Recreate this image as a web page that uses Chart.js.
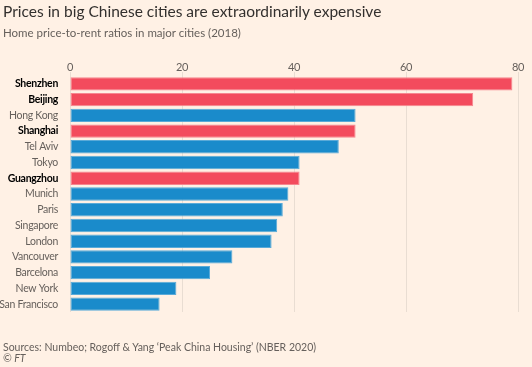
<!DOCTYPE html>
<html><head><meta charset="utf-8">
<script src="https://cdn.jsdelivr.net/npm/chart.js@4"></script>
<style>
html,body{margin:0;padding:0;background:#FFF1E5;}
body{width:532px;height:367px;position:relative;overflow:hidden;font-family:Lato,"Noto Sans",sans-serif;}
#wrap{position:absolute;left:0;top:0;width:532px;height:367px;}
.t{position:absolute;left:3px;white-space:nowrap;}
#title{top:2px;font-size:15.5px;line-height:18px;color:#33302E;}
#sub{top:26px;font-size:11.5px;line-height:14px;color:#66605C;}
#src{top:341px;font-size:10.5px;line-height:13px;color:#66605C;}
#ft{top:352px;font-size:10.5px;line-height:13px;color:#66605C;font-style:italic;}
</style></head>
<body>
<div id="wrap"><canvas id="c" width="532" height="367"></canvas></div>
<div class="t" id="title">Prices in big Chinese cities are extraordinarily expensive</div>
<div class="t" id="sub">Home price-to-rent ratios in major cities (2018)</div>
<div class="t" id="src">Sources: Numbeo; Rogoff &amp; Yang ‘Peak China Housing’ (NBER 2020)</div>
<div class="t" id="ft">© FT</div>
<script>
const cities = ["Shenzhen","Beijing","Hong Kong","Shanghai","Tel Aviv","Tokyo","Guangzhou","Munich","Paris","Singapore","London","Vancouver","Barcelona","New York","San Francisco"];
const ratios = [79,72,51,51,48,41,41,39,38,37,36,29,25,19,16];
const mainland = [true,true,false,true,false,false,true,false,false,false,false,false,false,false,false];
const xTicks = [0,20,40,60,80];

const RED="#F34B5D", BLUE="#1A8BCB";
const spacing = {id:'spacing',beforeDraw(chart){chart.ctx.letterSpacing='-0.3px';}};
new Chart(document.getElementById('c'),{
  type:'bar',
  data:{labels:cities,datasets:[{
    data:ratios,
    backgroundColor:mainland.map(m=>m?RED:BLUE),
    borderColor:mainland.map(m=>m?"#F6868F":"#5AAAD8"),
    borderWidth:1,
    borderSkipped:false,
    barPercentage:0.85,
    categoryPercentage:1
  }]},
  plugins:[spacing],
  options:{
    indexAxis:'y',
    responsive:false,
    animation:false,
    events:[],
    layout:{padding:{top:0,bottom:55,right:14,left:0}},
    plugins:{legend:{display:false},tooltip:{enabled:false}},
    scales:{
      x:{position:'top',min:0,max:80,
        afterBuildTicks:s=>{s.ticks=xTicks.map(v=>({value:v}));},
        afterFit:s=>{s.height=76;},
        grid:{color:"#E9DDD2",lineWidth:1,tickLength:4,drawTicks:true},
        border:{display:false},
        ticks:{color:"#66605C",font:{family:"Lato",size:11},padding:-2}
      },
      y:{
        afterFit:s=>{s.width=70;},
        grid:{display:false},
        border:{display:false},
        ticks:{
          autoSkip:false,
          padding:4,
          color:ctx=>mainland[ctx.index]?"#000000":"#66605C",
          font:ctx=>({family:"Lato",size:10.5,weight:mainland[ctx.index]?'bold':'normal'})
        }
      }
    }
  }
});
</script>
</body></html>
